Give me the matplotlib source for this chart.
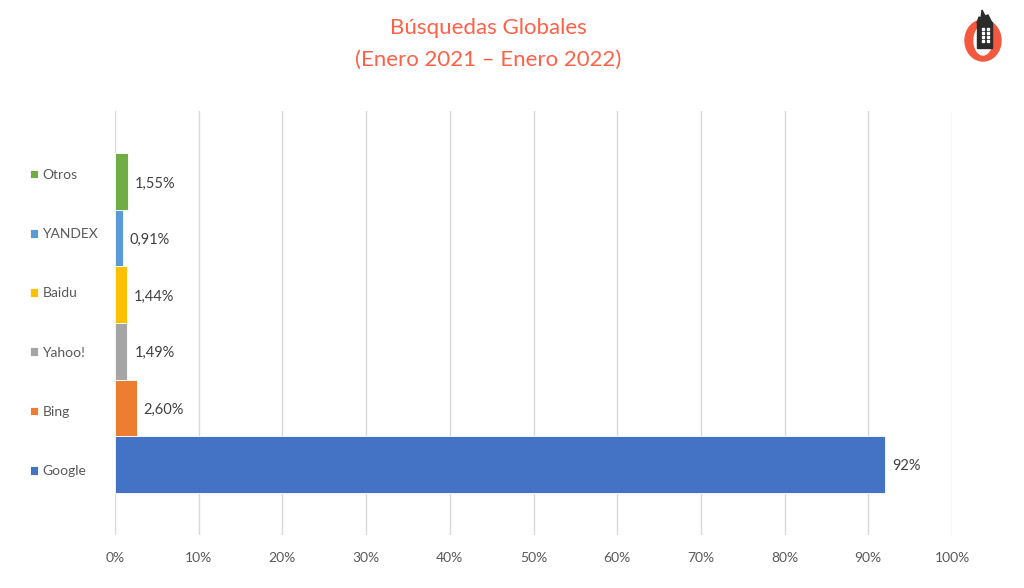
import matplotlib.pyplot as plt
import matplotlib.patches as mpatches
import numpy as np

plt.rcParams['font.family'] = ['Lato', 'DejaVu Sans']

# datos (de abajo hacia arriba)
buscadores = ['Google', 'Bing', 'Yahoo!', 'Baidu', 'YANDEX', 'Otros']
cuota = [92.0, 2.60, 1.49, 1.44, 0.91, 1.55]
colores = ['#4472C4', '#ED7D31', '#A5A5A5', '#FFC000', '#5B9BD5', '#70AD47']
ticks_x = [0, 10, 20, 30, 40, 50, 60, 70, 80, 90, 100]

gris = '#595959'

fig = plt.figure(figsize=(10.24, 5.88), dpi=100)
ax = fig.add_axes([115/1024, 1-535/588, (952-115)/1024, (535-111)/588])

n = len(buscadores)
alto = 0.8 / n
ys = -0.4 + alto/2 + np.arange(n) * alto

handles = []
for y, v, c, nombre in zip(ys, cuota, colores, buscadores):
    b = ax.barh(y, v, height=alto, color=c, edgecolor='white', linewidth=0.6, zorder=3, label=nombre)
    handles.append(b)
    if float(v).is_integer():
        txt = f"{int(v)}%"
    else:
        txt = f"{v:.2f}".replace('.', ',') + '%'
    ax.annotate(txt, (v, y), xytext=(5, -1.5), textcoords='offset points',
                va='center', ha='left', fontsize=10.5, color='#404040')

ax.set_xlim(0, 100)
ax.set_ylim(-0.5, 0.5)
ax.set_xticks(ticks_x)
ax.set_xticklabels([f"{t}%" for t in ticks_x], color=gris, fontsize=10)
ax.set_yticks([])
ax.tick_params(axis='x', length=0, pad=12)
ax.grid(axis='x', color='#D9D9D9', linewidth=1, zorder=0)
for s in ax.spines.values():
    s.set_visible(False)

leg = fig.legend(handles[::-1], buscadores[::-1], loc='center left',
                 bbox_to_anchor=(23/1024, 1-323/588), frameon=False,
                 handlelength=0.6, handleheight=0.6, handletextpad=0.3,
                 labelspacing=3.4, fontsize=10, borderpad=0)
for t in leg.get_texts():
    t.set_color(gris)

fig.text(488/1024, 1-28/588, 'Búsquedas Globales', ha='center', va='center',
         fontsize=16, color='#FF6147')
fig.text(488/1024, 1-60/588, '(Enero 2021 – Enero 2022)', ha='center', va='center',
         fontsize=16, color='#FF6147')

# logo (coordenadas en pixeles)
lg = fig.add_axes([955/1024, 1-70/588, 55/1024, 70/588])
lg.set_xlim(955, 1010)
lg.set_ylim(70, 0)
lg.axis('off')
lg.add_patch(mpatches.Ellipse((983, 40.5), 36, 41, color='#F4583F'))
lg.add_patch(mpatches.Ellipse((983, 40.5), 18, 29, color='white'))
lg.add_patch(mpatches.Rectangle((977, 22), 15, 26, color='#2B2B2B'))
lg.add_patch(mpatches.Polygon([(977, 23), (979, 17), (981, 18), (982, 10), (985, 16), (988, 15), (992, 23)],
                              color='#2B2B2B'))
for wx in (982, 987):
    for wy in (28, 32, 36, 40):
        lg.add_patch(mpatches.Rectangle((wx, wy), 2, 2, color='white'))

fig.savefig('out.png', dpi=100)
